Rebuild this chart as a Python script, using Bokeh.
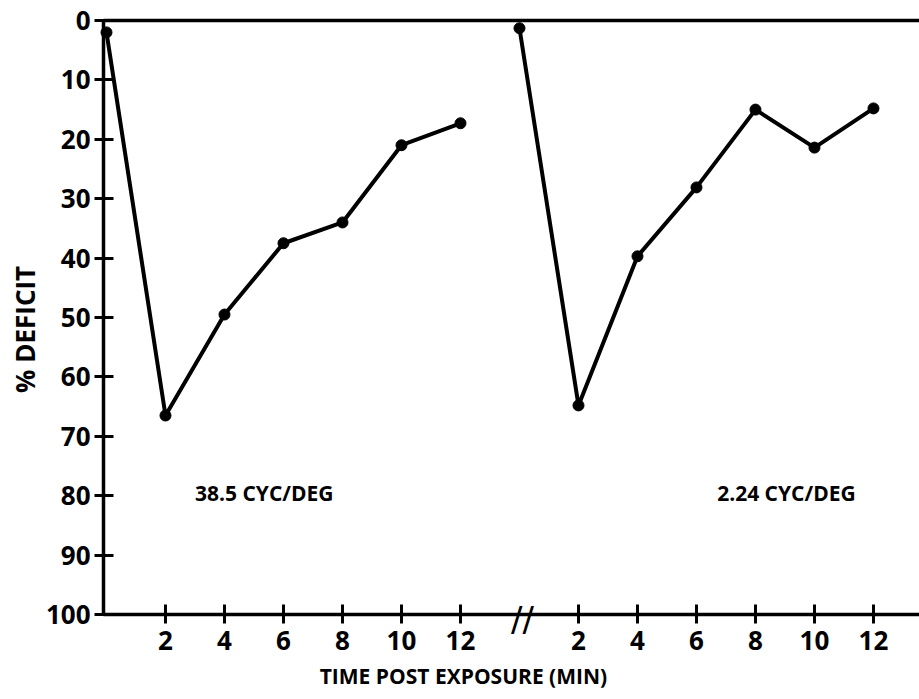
import math
from bokeh.plotting import figure
from bokeh.models import Range1d, LinearAxis, FixedTicker, Label, ColumnDataSource
from bokeh.core.properties import value
from bokeh.embed import file_html
from bokeh.resources import INLINE

# ---- data ----
time_min = [0, 2, 4, 6, 8, 10, 12]
deficit_385 = [2, 66.5, 49.5, 37.5, 34, 21, 17.3]   # 38.5 CYC/DEG
deficit_224 = [1.3, 64.8, 39.7, 28.1, 15, 21.4, 14.8]  # 2.24 CYC/DEG
panel_offset = 14  # second panel drawn after the axis break
x_tick_minutes = [2, 4, 6, 8, 10, 12]
y_ticks = [0, 10, 20, 30, 40, 50, 60, 70, 80, 90, 100]
panel_labels = ["38.5 CYC/DEG", "2.24 CYC/DEG"]

FONT = "Open Sans"
X0, X1 = -3.593, 27.56     # visible x-range (whole canvas)
Y_AXIS_X = -0.1            # where the y axis sits

p = figure(width=919, height=699, output_backend="svg", toolbar_location=None,
           x_range=Range1d(X0, X1), y_range=Range1d(114.31, -3.367),
           min_border=0, x_axis_location=None, y_axis_location=None)
p.outline_line_color = None
p.grid.visible = False
p.background_fill_color = "white"

xaxis = LinearAxis(fixed_location=100, bounds=(Y_AXIS_X, X1))
yaxis = LinearAxis(fixed_location=Y_AXIS_X, bounds=(0, 100))
p.add_layout(xaxis, "below")
p.add_layout(yaxis, "left")

for ax in (xaxis, yaxis):
    ax.axis_line_width = 3.5
    ax.axis_line_color = "black"
    ax.major_tick_line_width = 3
    ax.major_tick_line_color = "black"
    ax.major_tick_in = 10
    ax.major_tick_out = 9
    ax.minor_tick_line_color = None
    ax.major_label_text_font = FONT
    ax.major_label_text_font_style = "bold"
    ax.major_label_text_font_size = "26px"
    ax.major_label_text_color = "black"

xt = x_tick_minutes + [m + panel_offset for m in x_tick_minutes]
xaxis.ticker = FixedTicker(ticks=xt)
xaxis.major_label_overrides = {t: str(m) for t, m in zip(xt, x_tick_minutes * 2)}
xaxis.major_label_standoff = 8

yaxis.ticker = FixedTicker(ticks=y_ticks)
yaxis.major_label_standoff = 4

# top border line
top = LinearAxis(fixed_location=0, bounds=(Y_AXIS_X, X1), ticker=FixedTicker(ticks=[]),
                 major_label_text_font_size="0px",
                 axis_line_width=3.5, axis_line_color="black",
                 major_tick_line_color=None, minor_tick_line_color=None)
p.add_layout(top, "above")

# data series
x2 = [t + panel_offset for t in time_min]
for xs, ys in ((time_min, deficit_385), (x2, deficit_224)):
    src = ColumnDataSource(dict(x=xs, y=ys))
    p.line("x", "y", source=src, line_width=4, line_color="black")
    p.scatter("x", "y", source=src, size=11, fill_color="black", line_color="black")

# panel labels
p.text(x=[3.0, 3.0 + panel_offset + 3.7], y=[79.5, 79.5], text=panel_labels,
       text_font=value(FONT), text_font_style="bold", text_font_size="21px",
       text_align="left", text_baseline="middle", text_color="black")

# axis break marks
p.add_layout(Label(x=panel_offset + 0.1, y=100.8, text="//",
                   text_font="DejaVu Sans", text_font_style="normal", text_font_size="34px",
                   text_align="center", text_baseline="middle", text_color="black"))

# axis titles
p.add_layout(Label(x=12.1, y=110.4, text="TIME POST EXPOSURE (MIN)",
                   text_font=FONT, text_font_style="bold", text_font_size="21px",
                   text_align="center", text_baseline="middle", text_color="black"))
p.add_layout(Label(x=-2.76, y=52.0, text="% DEFICIT", angle=math.pi / 2,
                   text_font=FONT, text_font_style="bold", text_font_size="26px",
                   text_align="center", text_baseline="middle", text_color="black"))

open("out.html", "w").write(file_html(p, INLINE))
